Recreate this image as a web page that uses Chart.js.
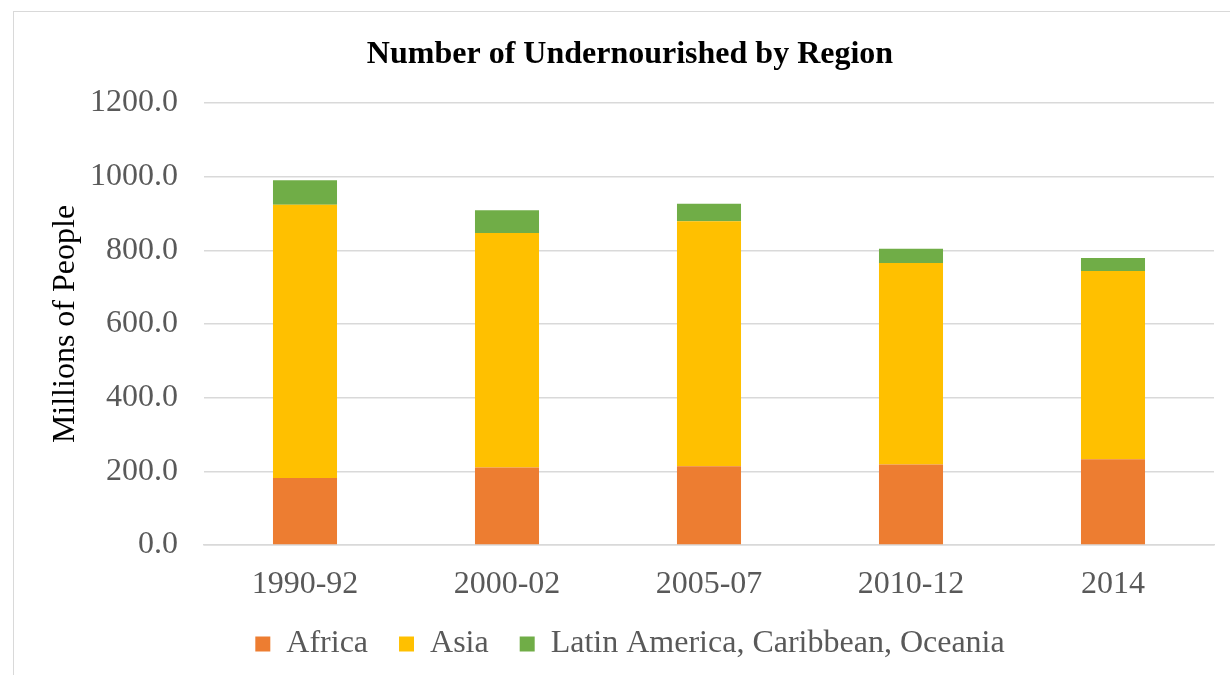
<!DOCTYPE html>
<html><head><meta charset="utf-8">
<script src="https://cdn.jsdelivr.net/npm/chart.js@4.4.0/dist/chart.umd.min.js"></script>
<style>
html,body{margin:0;padding:0;background:#fff;}
#wrap{position:relative;width:1230px;height:675px;overflow:hidden;}
#frame{position:absolute;left:13px;top:11px;width:1230px;height:700px;border:1px solid #d9d9d9;box-sizing:border-box;}
canvas{position:absolute;left:0;top:0;}
</style></head>
<body><div id="wrap"><div id="frame"></div><canvas id="c" width="1230" height="675"></canvas></div>
<script>
const categories = ["1990-92","2000-02","2005-07","2010-12","2014"];
const africa = [182.1, 210.2, 213.5, 218.5, 232.5];
const asia = [741.5, 637.0, 665.5, 546.9, 511.7];
const latam = [67.0, 61.5, 47.5, 39.0, 35.0];
const yTicks = [0,200,400,600,800,1000,1200];

const LEFT_PAD = 46;
const LEGEND_H = 62;
const legendHeightFix = {
  id:'legendHeightFix',
  beforeLayout(chart){
    const lg = chart.legend;
    if (lg && !lg._hfix){
      const f = lg.fit.bind(lg);
      lg.fit = function(){ f(); this.height = LEGEND_H; };
      lg._hfix = true;
    }
  }
};
new Chart(document.getElementById('c'), {
  type: 'bar',
  data: {
    labels: categories,
    datasets: [
      {label:'Africa', data: africa, backgroundColor:'#ED7D31'},
      {label:'Asia', data: asia, backgroundColor:'#FFC000'},
      {label:'Latin America, Caribbean, Oceania', data: latam, backgroundColor:'#70AD47'}
    ]
  },
  plugins:[legendHeightFix],
  options: {
    responsive:false, animation:false,
    layout:{padding:{top:30,bottom:16,left:LEFT_PAD,right:16}},
    datasets:{bar:{categoryPercentage:1, barPercentage:0.317, borderWidth:0}},
    plugins:{
      title:{display:true,text:'Number of Undernourished by Region',color:'#000',
        font:{family:'Liberation Serif',size:32,weight:'bold'},padding:{top:6,bottom:28.6}},
      legend:{position:'bottom',labels:{color:'#595959',font:{family:'Liberation Serif',size:32},
        boxWidth:15,boxHeight:15,padding:31}},
      tooltip:{enabled:false}
    },
    scales:{
      x:{stacked:true,grid:{display:false,drawTicks:false},border:{color:'#d9d9d9',width:1.5},
        afterFit:(s)=>{s.height=52;},
        ticks:{color:'#595959',font:{family:'Liberation Serif',size:32},padding:20}},
      y:{stacked:true,min:0,max:1200,
        afterBuildTicks:(s)=>{s.ticks=yTicks.map(v=>({value:v}));},
        afterFit:(s)=>{s.width=204-LEFT_PAD;},
        grid:{color:'#d9d9d9',lineWidth:1.5,drawTicks:false},border:{display:false},
        ticks:{color:'#595959',font:{family:'Liberation Serif',size:32},padding:26,
          callback:(v)=>Number(v).toFixed(1)},
        title:{display:true,text:'Millions of People',color:'#000',
          font:{family:'Liberation Serif',size:32},padding:0}}
    }
  }
});
</script></body></html>
